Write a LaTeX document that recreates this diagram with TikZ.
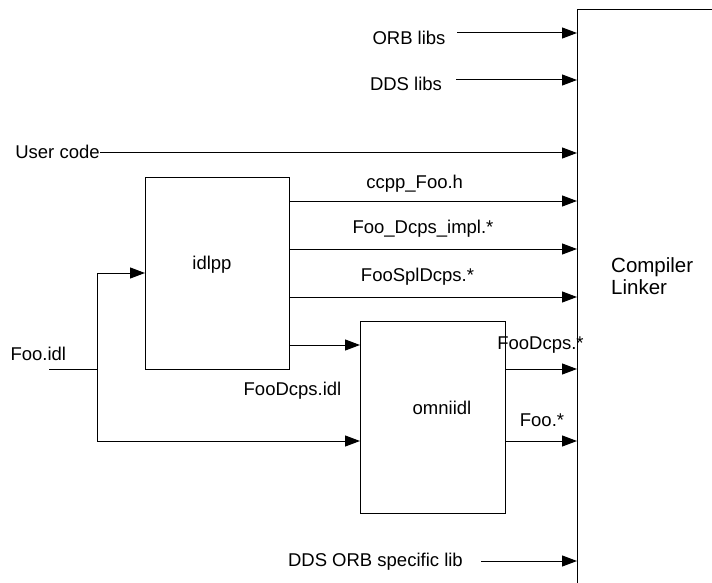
\documentclass[tikz,border=0pt]{standalone}
\usepackage{fontspec}
\setmainfont{Liberation Sans}
\usetikzlibrary{arrows.meta}
\begin{document}
\begin{tikzpicture}[x=1pt,y=-1pt,
  lbl/.style={font=\fontsize{18.5}{22}\selectfont, inner sep=0pt},
  arr/.style={-{Triangle[length=15pt,width=11pt]}, line width=1pt},
  ln/.style={line width=1pt},
  box/.style={draw, line width=1pt, inner sep=0pt}]
\useasboundingbox (0,0) rectangle (712,583);
\clip (0,0) rectangle (712,583);
% boxes
\node[box, anchor=north west, minimum width=400pt, minimum height=800pt] (cl) at (577,9) {};
\node[box, anchor=north west, minimum width=144pt, minimum height=192pt] (idlpp) at (145,177) {};
\node[box, anchor=north west, minimum width=145pt, minimum height=192pt] (omni) at (360,321) {};
% box texts
\node[lbl] (idlppt) at (212,265) {idlpp};
\node[lbl] (omnit) at (442,408) {omniidl};
\node[lbl, font=\fontsize{20.5}{22.5}\selectfont, align=left, anchor=west] (clt) at (611,276) {Compiler\\Linker};
% labels
\node[lbl] (orb) at (409,38) {ORB libs};
\node[lbl] (dds) at (406,83.5) {DDS libs};
\node[lbl] (usr) at (57.5,151.5) {User code};
\node[lbl] (ccpp) at (414.7,183.5) {ccpp\_Foo.h};
\node[lbl] (impl) at (423,228.5) {Foo\_Dcps\_impl.*};
\node[lbl] (spl) at (417.5,277) {FooSplDcps.*};
\node[lbl] (fooidl) at (38.3,354) {Foo.idl};
\node[lbl] (fdidl) at (292.5,390.5) {FooDcps.idl};
\node[lbl] (fdstar) at (540.5,345.5) {FooDcps.*};
\node[lbl] (foostar) at (542,420.5) {Foo.*};
\node[lbl, anchor=east] (ddsorb) at (463,562) {DDS ORB specific lib};
% coordinates
\coordinate (orbs) at (457,33);
\coordinate (ddss) at (456,80);
\coordinate (usrs) at (100,153);
\coordinate (r1) at (289,201);
\coordinate (r2) at (289,249);
\coordinate (r3) at (289,297);
\coordinate (r4) at (289,345);
\coordinate (fi) at (49,369);
\coordinate (jn) at (97,369);
\coordinate (idin) at (145,273);
\coordinate (omin1) at (360,345);
\coordinate (omin2) at (360,441);
\coordinate (o1) at (505,369);
\coordinate (o2) at (505,441);
\coordinate (ddsorbs) at (481,561);
% connectors
\draw[arr] (orbs) -- (orbs -| cl.west);
\draw[arr] (ddss) -- (ddss -| cl.west);
\draw[arr] (usrs) -- (usrs -| cl.west);
\draw[arr] (r1) -- (r1 -| cl.west);
\draw[arr] (r2) -- (r2 -| cl.west);
\draw[arr] (r3) -- (r3 -| cl.west);
\draw[arr] (r4) -- (omin1);
\draw[ln] (fi) -- (jn);
\draw[arr] (jn) |- (idin);
\draw[arr] (jn) |- (omin2);
\draw[arr] (o1) -- (o1 -| cl.west);
\draw[arr] (o2) -- (o2 -| cl.west);
\draw[arr] (ddsorbs) -- (ddsorbs -| cl.west);
\end{tikzpicture}
\end{document}
